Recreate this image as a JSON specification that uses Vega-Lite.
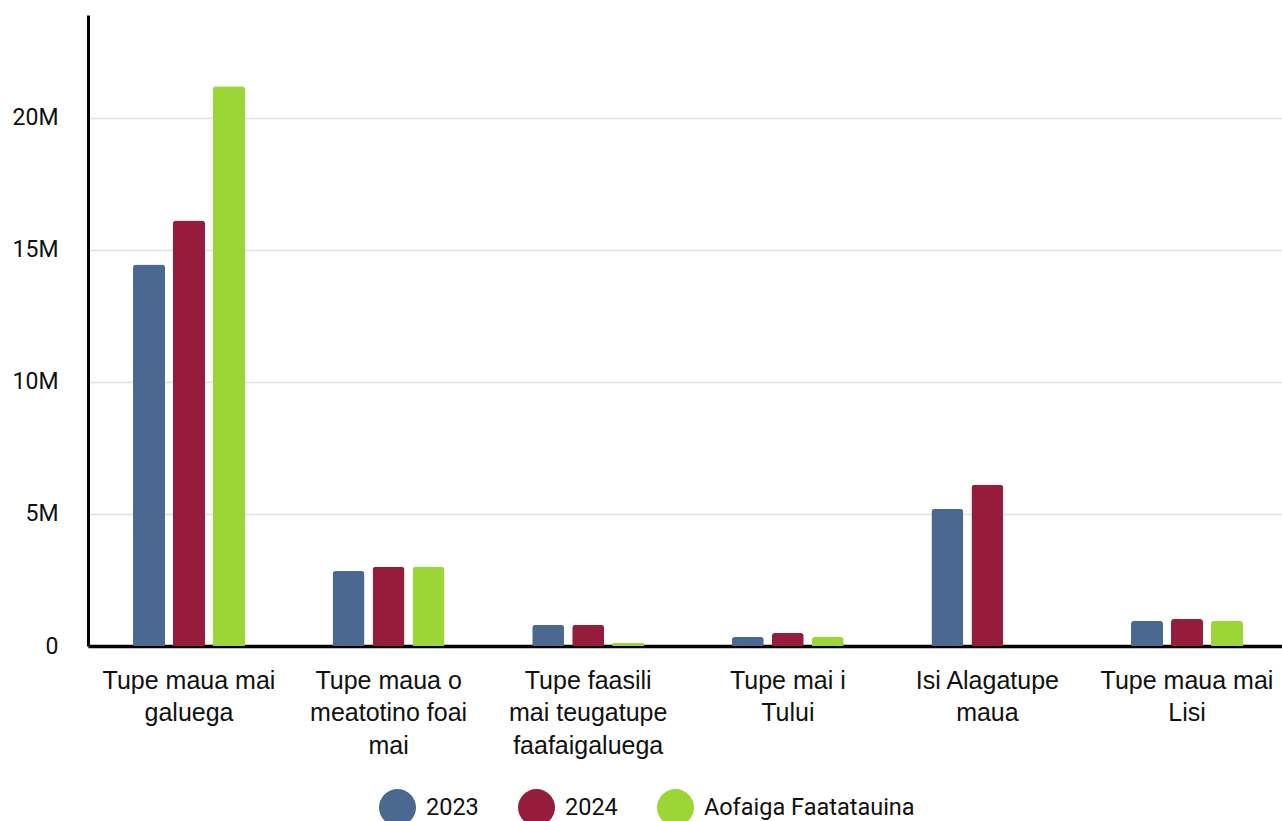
{
  "$schema": "https://vega.github.io/schema/vega-lite/v6.json",
  "width": 1200,
  "height": 631,
  "padding": {"left": 0, "top": 15, "right": 0, "bottom": 0},
  "background": "white",
  "config": {
    "font": "Roboto",
    "view": {"stroke": null}
  },
  "data": {
    "values": [
      {"category": "Tupe maua mai galuega", "series": "2023", "value": 14450000},
      {"category": "Tupe maua mai galuega", "series": "2024", "value": 16120000},
      {"category": "Tupe maua mai galuega", "series": "Aofaiga Faatatauina", "value": 21200000},
      {"category": "Tupe maua o meatotino foai mai", "series": "2023", "value": 2840000},
      {"category": "Tupe maua o meatotino foai mai", "series": "2024", "value": 3000000},
      {"category": "Tupe maua o meatotino foai mai", "series": "Aofaiga Faatatauina", "value": 3000000},
      {"category": "Tupe faasili mai teugatupe faafaigaluega", "series": "2023", "value": 800000},
      {"category": "Tupe faasili mai teugatupe faafaigaluega", "series": "2024", "value": 800000},
      {"category": "Tupe faasili mai teugatupe faafaigaluega", "series": "Aofaiga Faatatauina", "value": 110000},
      {"category": "Tupe mai i Tului", "series": "2023", "value": 340000},
      {"category": "Tupe mai i Tului", "series": "2024", "value": 490000},
      {"category": "Tupe mai i Tului", "series": "Aofaiga Faatatauina", "value": 340000},
      {"category": "Isi Alagatupe maua", "series": "2023", "value": 5190000},
      {"category": "Isi Alagatupe maua", "series": "2024", "value": 6100000},
      {"category": "Isi Alagatupe maua", "series": "Aofaiga Faatatauina", "value": 0},
      {"category": "Tupe maua mai Lisi", "series": "2023", "value": 950000},
      {"category": "Tupe maua mai Lisi", "series": "2024", "value": 1020000},
      {"category": "Tupe maua mai Lisi", "series": "Aofaiga Faatatauina", "value": 950000}
    ]
  },
  "mark": {"type": "bar", "cornerRadiusEnd": 3},
  "encoding": {
    "x": {
      "field": "category",
      "type": "nominal",
      "sort": null,
      "scale": {"paddingInner": 0.439, "paddingOuter": 0.2255},
      "axis": {
        "title": null,
        "labelAngle": 0,
        "ticks": false,
        "domainColor": "black",
        "domainWidth": 3.5,
        "labelFont": "Liberation Sans",
        "labelFontSize": 25,
        "labelColor": "#111111",
        "labelLineHeight": 32.5,
        "labelPadding": 22,
        "labelBaseline": "top",
        "labelLimit": 0,
        "labelExpr": "datum.value == 'Tupe maua mai galuega' ? ['Tupe maua mai', 'galuega'] : datum.value == 'Tupe maua o meatotino foai mai' ? ['Tupe maua o', 'meatotino foai', 'mai'] : datum.value == 'Tupe faasili mai teugatupe faafaigaluega' ? ['Tupe faasili', 'mai teugatupe', 'faafaigaluega'] : datum.value == 'Tupe mai i Tului' ? ['Tupe mai i', 'Tului'] : datum.value == 'Isi Alagatupe maua' ? ['Isi Alagatupe', 'maua'] : ['Tupe maua mai', 'Lisi']"
      }
    },
    "xOffset": {
      "field": "series",
      "type": "nominal",
      "scale": {"paddingInner": 0.2}
    },
    "y": {
      "field": "value",
      "type": "quantitative",
      "scale": {"domain": [0, 23900000], "nice": false},
      "axis": {
        "title": null,
        "values": [0, 5000000, 10000000, 15000000, 20000000],
        "labelExpr": "datum.value == 0 ? '0' : format(datum.value, '~s')",
        "ticks": false,
        "domainColor": "black",
        "domainWidth": 3,
        "gridColor": "#e0e0e0",
        "gridWidth": 1.5,
        "labelFont": "Roboto",
        "labelFontSize": 23,
        "labelColor": "#111111",
        "labelPadding": 30,
        "minExtent": 88,
        "maxExtent": 88
      }
    },
    "color": {
      "field": "series",
      "type": "nominal",
      "scale": {
        "domain": ["2023", "2024", "Aofaiga Faatatauina"],
        "range": ["#4a6890", "#961c3c", "#9cd636"]
      },
      "legend": {
        "title": null,
        "orient": "none",
        "legendX": 290,
        "legendY": 773,
        "direction": "horizontal",
        "symbolType": "circle",
        "symbolSize": 1369,
        "symbolOpacity": 1,
        "labelFont": "Roboto",
        "labelFontSize": 23.5,
        "labelColor": "#111111",
        "labelLimit": 0,
        "columnPadding": 38,
        "labelOffset": 9
      }
    }
  }
}
